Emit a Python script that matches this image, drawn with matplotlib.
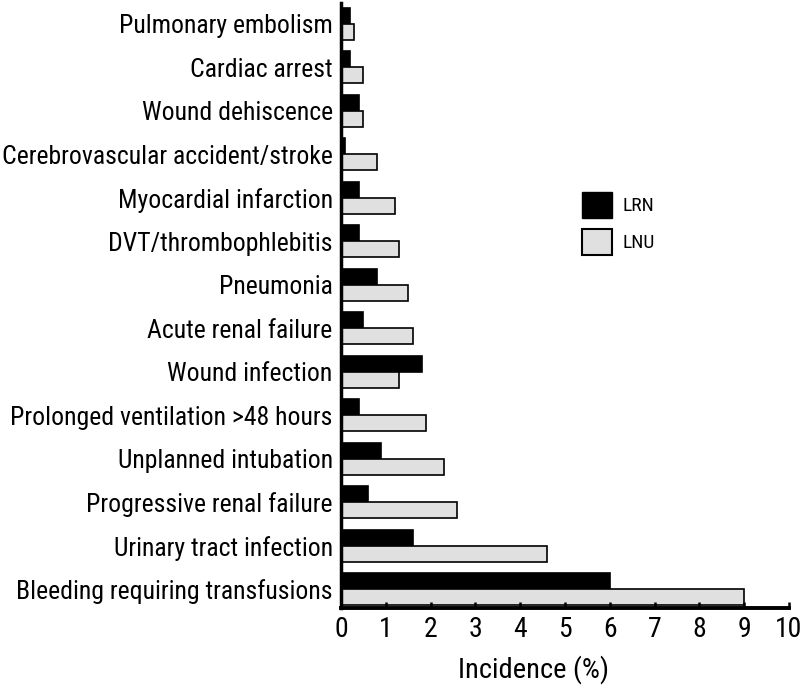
import matplotlib
matplotlib.use('Agg')
import matplotlib.pyplot as plt
from matplotlib.patches import Patch
import numpy as np

plt.rcParams['font.family'] = ['Roboto Condensed', 'DejaVu Sans']

# Datos (de abajo hacia arriba)
categories = ['Bleeding requiring transfusions', 'Urinary tract infection',
              'Progressive renal failure', 'Unplanned intubation',
              'Prolonged ventilation >48 hours', 'Wound infection',
              'Acute renal failure', 'Pneumonia', 'DVT/thrombophlebitis',
              'Myocardial infarction', 'Cerebrovascular accident/stroke',
              'Wound dehiscence', 'Cardiac arrest', 'Pulmonary embolism']
lrn = [6.0, 1.6, 0.6, 0.9, 0.4, 1.8, 0.5, 0.8, 0.4, 0.4, 0.1, 0.4, 0.2, 0.2]
lnu = [9.0, 4.6, 2.6, 2.3, 1.9, 1.3, 1.6, 1.5, 1.3, 1.2, 0.8, 0.5, 0.5, 0.3]
xticks = list(range(0, 11))

fig = plt.figure(figsize=(8.05, 6.86), dpi=100)
ax = fig.add_axes([341 / 805, 1 - 608 / 686, (789 - 341) / 805, 605 / 686])

y = np.arange(len(categories))
h = 0.37
ax.barh(y + h / 2, lrn, height=h, color='black', edgecolor='black', linewidth=1.2)
ax.barh(y - h / 2, lnu, height=h, color='#e0e0e0', edgecolor='black', linewidth=1.2)

ax.set_xlim(0, 10)
ax.set_ylim(-h - 0.06, 13.48)
ax.set_yticks(y)
ax.set_yticklabels(categories, fontsize=18.5)
ax.set_xticks(xticks)
ax.set_xticklabels([str(t) for t in xticks], fontsize=20)
ax.set_xticks([10], minor=True)
ax.set_xlabel('Incidence (%)', fontsize=20.5)
ax.xaxis.set_label_coords((533 - 341) / 448, -0.078)

# Solo ejes izquierdo e inferior
ax.spines['top'].set_visible(False)
ax.spines['right'].set_visible(False)
ax.spines['left'].set_linewidth(2.5)
ax.spines['bottom'].set_linewidth(2.8)
ax.tick_params(axis='y', length=0, pad=6)
ax.tick_params(axis='x', which='major', direction='in', length=4, width=1.8, pad=6)
ax.tick_params(axis='x', which='minor', direction='in', length=10, width=2.2)

handles = [Patch(facecolor='black', edgecolor='black', label='LRN'),
           Patch(facecolor='#e0e0e0', edgecolor='black', linewidth=1.5, label='LNU')]
fig.legend(handles=handles, loc='upper left', bbox_to_anchor=(582 / 805, 1 - 192 / 686),
           frameon=False, fontsize=14, handlelength=1.55, handleheight=1.65,
           handletextpad=0.55, labelspacing=0.6, borderpad=0, borderaxespad=0)

plt.savefig('out.png', dpi=100)
